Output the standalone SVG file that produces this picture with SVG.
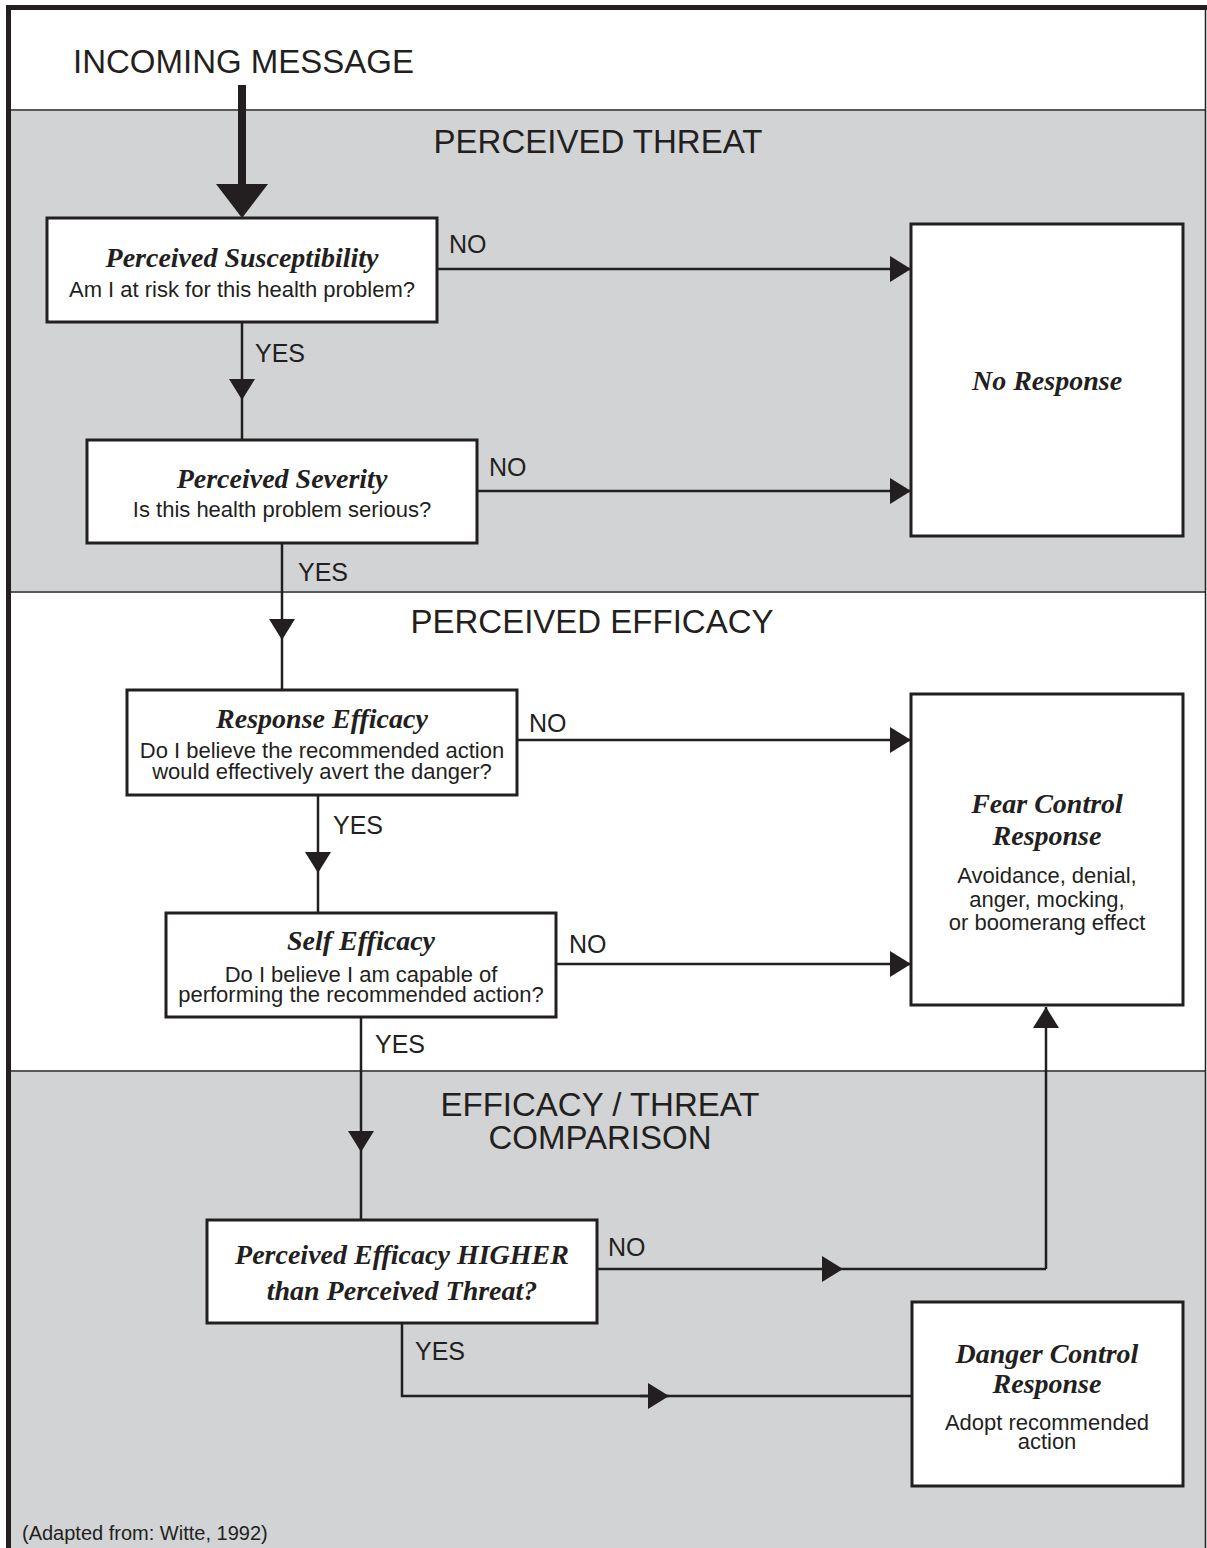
<svg xmlns="http://www.w3.org/2000/svg" width="1207" height="1548" viewBox="0 0 1207 1548">
<defs>
<style>
.box{fill:#ffffff;stroke:#231f20;stroke-width:3}
.ln{fill:none;stroke:#231f20;stroke-width:2.5}
.div{stroke:#58595b;stroke-width:2}
.ttl{font-family:"Liberation Serif",serif;font-style:italic;font-weight:bold;font-size:28px;fill:#231f20;text-anchor:middle}
.sub{font-family:"Liberation Sans",Arial,sans-serif;font-size:22px;fill:#231f20;text-anchor:middle}
.hdr{font-family:"Liberation Sans",Arial,sans-serif;font-size:33px;fill:#231f20;text-anchor:middle}
.lbl{font-family:"Liberation Sans",Arial,sans-serif;font-size:25px;fill:#231f20}
</style>
<marker id="arr" markerUnits="userSpaceOnUse" markerWidth="22" markerHeight="26" refX="21" refY="13" orient="auto">
<path d="M0,0 L21,13 L0,26 Z" fill="#231f20"/>
</marker>
</defs>

<!-- backgrounds -->
<rect x="0" y="0" width="1207" height="1548" fill="#ffffff"/>
<rect x="10" y="110" width="1195" height="482" fill="#d1d3d4"/>
<rect x="10" y="1071" width="1195" height="477" fill="#d1d3d4"/>
<line class="div" x1="10" y1="110" x2="1205" y2="110"/>
<line class="div" x1="10" y1="592" x2="1205" y2="592"/>
<line class="div" x1="10" y1="1071" x2="1205" y2="1071"/>
<!-- frame -->
<line x1="1205.5" y1="7" x2="1205.5" y2="1548" stroke="#231f20" stroke-width="1.5"/>
<line x1="6" y1="7.5" x2="1207" y2="7.5" stroke="#231f20" stroke-width="5"/>
<line x1="8.5" y1="5" x2="8.5" y2="1548" stroke="#231f20" stroke-width="5"/>

<!-- section headings -->
<text x="73" y="73" class="hdr" text-anchor="start" style="text-anchor:start">INCOMING MESSAGE</text>
<text x="598" y="153" class="hdr">PERCEIVED THREAT</text>
<text x="592" y="633" class="hdr">PERCEIVED EFFICACY</text>
<text x="600" y="1116" class="hdr">EFFICACY / THREAT</text>
<text x="600" y="1149" class="hdr">COMPARISON</text>

<!-- connectors -->
<g id="connectors">
<line x1="242" y1="85" x2="242" y2="186" stroke="#231f20" stroke-width="8"/>
<polygon points="216,184 268,184 242,218" fill="#231f20"/>

<path class="ln" d="M242,322 L242,400 L242,440" marker-mid="url(#arr)"/>
<path class="ln" d="M437,269 L911,269" marker-end="url(#arr)"/>
<path class="ln" d="M477,491 L911,491" marker-end="url(#arr)"/>
<path class="ln" d="M282,543 L282,640 L282,690" marker-mid="url(#arr)"/>
<path class="ln" d="M517,740 L911,740" marker-end="url(#arr)"/>
<path class="ln" d="M318,795 L318,873 L318,913" marker-mid="url(#arr)"/>
<path class="ln" d="M556,964 L911,964" marker-end="url(#arr)"/>
<path class="ln" d="M361,1017 L361,1152 L361,1220" marker-mid="url(#arr)"/>
<path class="ln" d="M597,1269 L843,1269 L1046,1269" marker-mid="url(#arr)"/>
<path class="ln" d="M1046,1269 L1046,1007" marker-end="url(#arr)"/>
<path class="ln" d="M402,1323 L402,1396 L669,1396"/>
<path class="ln" d="M640,1396 L669,1396" marker-end="url(#arr)"/>
<path class="ln" d="M669,1396 L912,1396"/>

<text class="lbl" x="449" y="253">NO</text>
<text class="lbl" x="255" y="362">YES</text>
<text class="lbl" x="489" y="476">NO</text>
<text class="lbl" x="298" y="581">YES</text>
<text class="lbl" x="529" y="732">NO</text>
<text class="lbl" x="333" y="834">YES</text>
<text class="lbl" x="569" y="953">NO</text>
<text class="lbl" x="375" y="1053">YES</text>
<text class="lbl" x="608" y="1256">NO</text>
<text class="lbl" x="415" y="1360">YES</text>
</g>

<g id="node-susceptibility">
<rect class="box" x="47" y="218" width="390" height="104"/>
<text class="ttl" x="242" y="267">Perceived Susceptibility</text>
<text class="sub" x="242" y="297">Am I at risk for this health problem?</text>
</g>

<g id="node-severity">
<rect class="box" x="87" y="440" width="390" height="103"/>
<text class="ttl" x="282" y="488">Perceived Severity</text>
<text class="sub" x="282" y="517">Is this health problem serious?</text>
</g>

<g id="node-no-response">
<rect class="box" x="911" y="224" width="272" height="312"/>
<text class="ttl" x="1047" y="390">No Response</text>
</g>

<g id="node-response-efficacy">
<rect class="box" x="127" y="690" width="390" height="105"/>
<text class="ttl" x="322" y="728">Response Efficacy</text>
<text class="sub" x="322" y="758">Do I believe the recommended action</text>
<text class="sub" x="322" y="779">would effectively avert the danger?</text>
</g>

<g id="node-self-efficacy">
<rect class="box" x="166" y="913" width="390" height="104"/>
<text class="ttl" x="361" y="950">Self Efficacy</text>
<text class="sub" x="361" y="982">Do I believe I am capable of</text>
<text class="sub" x="361" y="1002">performing the recommended action?</text>
</g>

<g id="node-fear-control">
<rect class="box" x="911" y="694" width="272" height="311"/>
<text class="ttl" x="1047" y="813">Fear Control</text>
<text class="ttl" x="1047" y="845">Response</text>
<text class="sub" x="1047" y="883">Avoidance, denial,</text>
<text class="sub" x="1047" y="907">anger, mocking,</text>
<text class="sub" x="1047" y="930">or boomerang effect</text>
</g>

<g id="node-comparison">
<rect class="box" x="207" y="1220" width="390" height="103"/>
<text class="ttl" x="402" y="1264">Perceived Efficacy HIGHER</text>
<text class="ttl" x="402" y="1300">than Perceived Threat?</text>
</g>

<g id="node-danger-control">
<rect class="box" x="912" y="1302" width="271" height="184"/>
<text class="ttl" x="1047" y="1363">Danger Control</text>
<text class="ttl" x="1047" y="1393">Response</text>
<text class="sub" x="1047" y="1430">Adopt recommended</text>
<text class="sub" x="1047" y="1449">action</text>
</g>

<text x="22" y="1540" font-family="'Liberation Sans',Arial,sans-serif" font-size="20" fill="#231f20">(Adapted from: Witte, 1992)</text>
</svg>
